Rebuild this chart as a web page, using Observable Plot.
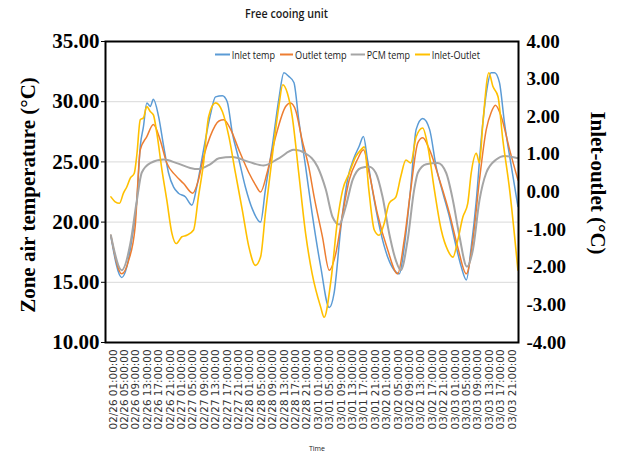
<!DOCTYPE html>
<html><head><meta charset="utf-8">
<script src="https://cdn.jsdelivr.net/npm/d3@7"></script>
<script src="https://cdn.jsdelivr.net/npm/@observablehq/plot@0.6"></script>
<style>
body{margin:0;background:#fff;}
#wrap{width:617px;height:452px;overflow:hidden;}
</style></head><body><div id="wrap"></div>
<script>
// ---- categories / tick labels ----
const days = ["02/26","02/27","02/28","03/01","03/02","03/03"];
const tickHours = [1,5,9,13,17,21];
const leftTicks = [10,15,20,25,30,35];
const leftGrid = [15,20,25,30];
const rightTicks = [-4,-3,-2,-1,0,1,2,3,4];
const seriesNames = ["Inlet temp","Outlet temp","PCM temp","Inlet-Outlet"];
const seriesColors = ["#5B9BD5","#ED7D31","#A5A5A5","#FFC000"];

// ---- series (hours since 02/26 00:00) ----
const inletHours = [0.2,4,5.8,7.5,9.3,10.5,11.6,12.8,14,15.1,16.9,18.7,20.4,22.2,23.9,26.3,28.6,30.3,32.7,35,36.9,39.3,41,42.8,45.1,47.4,49.8,52.7,54.4,56.8,59.1,60.9,62.6,64.4,66.1,68.5,70.8,73.8,76.8,78.5,80.9,83.2,85.6,87.3,88.8,90.2,92.6,94.9,97.3,99.6,101.4,103.1,105.4,107.3,109.6,112,114.3,116.7,119,121.4,123.1,124.9,126.6,128.4,130.1,131.9,133.6,134.8,136.5,138.3,140.7,143];
const inletTemp = [18.8,15.4,16.3,18.5,21.8,26.3,27.9,29.9,29.6,30.2,28.8,26.3,24.1,22.9,22.4,22.1,21.4,22.9,26,28.8,30.4,30.5,30,27.4,25.2,22.9,21.1,20,22.7,26.3,30.2,32.4,32.1,31.6,28.5,24.6,20.7,16.3,12.9,14.1,19.6,23.5,25.4,26.3,27.1,25.2,21.8,19.1,17.1,16,15.7,17.9,22.9,27.7,28.6,27.7,24.6,22.4,20.4,17.9,16.3,15.2,17.9,21.8,26.8,30.7,32.4,32.4,31.6,28.2,24.6,21.3];

const outletHours = [0.2,4,6.4,8.7,10.5,12.8,15.1,17.5,19.8,22.8,25.7,28.9,30.9,32.7,35,38.1,39.8,42.2,45.1,48.6,50.9,52.7,55,58,61.5,63.2,65,67.3,69.6,71.5,74.4,76.8,79.1,81.5,83.8,86.7,88.8,90.8,93.7,97.3,100.8,103.1,105.4,107.9,109.6,112,115.5,119,121.9,124.9,127.2,129.5,131.9,133.6,135.1,137.1,140.1,143];
const outletTemp = [18.9,15.7,16.8,19.6,26,27.1,28.1,26.8,24.9,23.9,23.2,22.4,23.5,25.4,27.1,28.4,28.5,27.7,26,24.1,23.1,22.5,24.1,27.1,29.6,29.9,29.3,26.8,24.6,22.1,18.8,16,17.4,20.7,23.5,25.2,26,24.1,20.7,17.7,15.7,18.5,22.7,26.6,27,26,23.5,20.7,17.9,15.7,18.5,23.5,27.7,29.1,29.7,28.8,26,23.5];

const pcmHours = [0.2,4,7,9.3,11,14,18.7,23.3,28,30.9,35,38.1,42.8,48.6,53.8,59.1,64.4,68.5,72.7,75.6,78,80.3,82.6,85,87.9,90.8,93.1,95.5,97.8,100.2,101.9,104.3,106.6,107.9,110.8,114.9,117.8,120.2,122.5,125.1,127.2,129.5,131.9,135.4,138.3,143];
const pcmTemp = [18.9,16,18.2,21.8,24.1,24.9,25.2,24.9,24.5,24.4,24.8,25.3,25.4,25,24.7,25.3,26,25.7,24.6,22.7,20.4,19.8,21.3,23.5,24.5,24.6,24.1,22.1,19.1,16.8,16,18.5,22.7,24.1,24.8,24.9,24.1,21.8,18.8,16.3,17.7,21.8,24.1,25.2,25.5,25.3];

const diffHours = [0.2,1.7,3.2,4.6,5.8,7,8.4,9.3,10.5,11.6,12.8,14,15.1,16.3,18.1,19.8,21.6,23.1,25.1,26.8,29.2,30.9,32.7,34.5,36.9,39.3,41.6,43.9,46.3,48.6,50.9,52.7,54.4,56.8,59.1,60.5,62.1,63.8,66.1,68.5,70.8,73.8,75,77.4,79.7,81.5,83.8,86.1,87.9,89.1,90.7,92.6,94.3,96.1,97.8,100.2,101.9,103.7,105.4,107.3,109.6,111.4,113.7,116.1,118.4,120.2,121.9,123.7,125.4,126.6,128.4,129.5,130.7,132.8,134.2,136,137.7,140.1,143];
const diffValue = [-0.13,-0.26,-0.3,-0.03,0.14,0.37,0.5,0.99,1.92,1.97,2.27,2.14,2.05,1.57,0.59,-0.21,-1.1,-1.37,-1.19,-1.15,-1.01,-0.13,0.77,2.01,2.37,2.14,1.47,0.5,-0.48,-1.46,-1.95,-1.73,-0.57,0.94,2.27,2.85,2.63,2.01,0.5,-1.1,-2.17,-3.06,-3.33,-2.35,-0.75,0.05,0.5,0.94,1.12,1.2,0.05,-1.01,-1.15,-0.83,-0.3,-0.13,0.41,0.85,0.77,1.47,1.7,1.21,0.05,-1.01,-1.55,-1.73,-1.28,-0.66,-0.3,0.5,1.03,0.77,1.83,3.17,2.81,2.54,1.39,0.05,-2.08];

// secondary axis (-4..4) mapped onto primary (10..35)
const toLeft = d => 10 + (d + 4) * 25 / 8;
const fromLeft = t => (t - 10) * 8 / 25 - 4;

const rows = [];
function addSeries(name, hs, vs, conv) {
  hs.forEach((h, i) => rows.push({series: name, h, v: conv ? toLeft(vs[i]) : vs[i]}));
}
addSeries("Inlet temp", inletHours, inletTemp, false);
addSeries("Outlet temp", outletHours, outletTemp, false);
addSeries("PCM temp", pcmHours, pcmTemp, false);
addSeries("Inlet-Outlet", diffHours, diffValue, true);

const xTicks = [];
days.forEach((d, i) => tickHours.forEach(t => xTicks.push(i * 24 + t)));
const xLabel = h => {
  const d = days[Math.floor(h / 24)];
  const hh = String(h % 24).padStart(2, "0");
  return `${d} ${hh}:00:00`;
};

const serif = "'Liberation Serif','Times New Roman',serif";
const plot = Plot.plot({
  width: 617, height: 452,
  marginLeft: 105, marginRight: 99, marginTop: 41, marginBottom: 110,
  style: {background: "transparent", overflow: "visible"},
  x: {domain: [-1.7, 143.2]},
  y: {domain: [10, 35]},
  color: {domain: seriesNames, range: seriesColors},
  marks: [
    Plot.ruleY(leftGrid, {stroke: "#d9d9d9", strokeWidth: 1}),
    Plot.axisY({anchor: "left", ticks: leftTicks, tickFormat: d => d.toFixed(2), tickSize: 4, tickPadding: 2,
      fontSize: 21, fontFamily: serif, fontWeight: "bold", fill: "#000", stroke: "#000", label: null}),
    Plot.axisY({anchor: "right", ticks: rightTicks.map(toLeft), tickFormat: t => fromLeft(t).toFixed(2), tickSize: 0, tickPadding: 8,
      fontSize: 19, fontFamily: serif, fontWeight: "bold", fill: "#000", label: null}),
    Plot.axisX({ticks: xTicks, tickFormat: xLabel, tickRotate: -90, tickSize: 0, tickPadding: 7,
      fontSize: 10.4, fontFamily: "'DejaVu Sans',sans-serif", fill: "#333", label: null}),
    Plot.line(rows, {filter: d => d.series !== "Inlet-Outlet", x: "h", y: "v", z: "series", stroke: "series",
      strokeWidth: d => d.series === "PCM temp" ? 2 : 1.5, curve: "monotone-x"}),
    Plot.line(rows, {filter: d => d.series === "Inlet-Outlet", x: "h", y: "v", stroke: "series", strokeWidth: 1.6, curve: "monotone-x"}),
    Plot.frame({stroke: "#000", strokeWidth: 2})
  ]
});
document.getElementById("wrap").appendChild(plot);

// ---- titles, legend (text annotations) ----
const svg = d3.select(plot);
const sans = "'Open Sans','Noto Sans',sans-serif";
svg.append("text").attr("x", 286.5).attr("y", 18).attr("text-anchor", "middle")
  .attr("font-family", sans).attr("font-size", 12).attr("font-weight", 600).attr("fill", "#1a1a1a")
  .attr("textLength", 83).attr("lengthAdjust", "spacingAndGlyphs").text("Free cooing unit");
svg.append("text").attr("transform", "translate(35,195) rotate(-90)").attr("text-anchor", "middle")
  .attr("font-family", serif).attr("font-size", 21).attr("font-weight", "bold").attr("fill", "#000")
  .text("Zone air temperature (°C)");
svg.append("text").attr("transform", "translate(591,183) rotate(90)").attr("text-anchor", "middle")
  .attr("font-family", serif).attr("font-size", 21).attr("font-weight", "bold").attr("fill", "#000")
  .text("Inlet-outlet (°C)");
svg.append("text").attr("x", 317).attr("y", 451).attr("text-anchor", "middle")
  .attr("font-family", sans).attr("font-size", 7).attr("fill", "#222").text("Time");

const legendItems = [
  {x0: 215, x1: 230, tx: 231.7, len: 43.3},
  {x0: 280, x1: 293, tx: 295, len: 51.7},
  {x0: 350.7, x1: 365, tx: 366.7, len: 43.3},
  {x0: 415, x1: 430, tx: 431.7, len: 48.3}
];
const lg = svg.append("g").attr("text-anchor", "start");
legendItems.forEach((it, i) => {
  lg.append("line").attr("x1", it.x0).attr("x2", it.x1).attr("y1", 54.5).attr("y2", 54.5)
    .attr("stroke", seriesColors[i]).attr("stroke-width", 2);
  lg.append("text").attr("x", it.tx).attr("y", 58.5).attr("text-anchor", "start")
    .attr("font-family", sans).attr("font-size", 11)
    .attr("fill", "#1a1a1a").attr("textLength", it.len).attr("lengthAdjust", "spacingAndGlyphs").text(seriesNames[i]);
});
</script></body></html>
